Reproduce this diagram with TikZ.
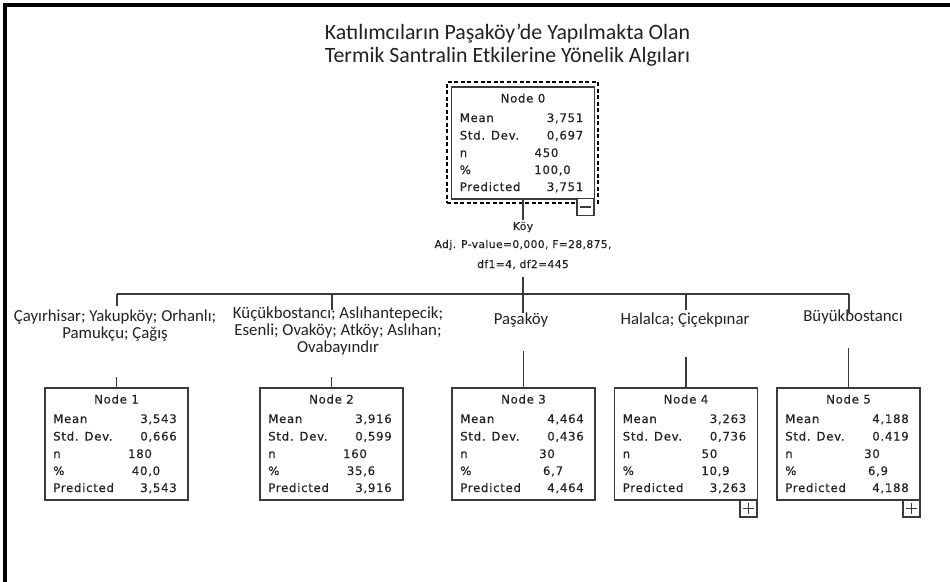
\documentclass[tikz,border=0pt]{standalone}
\usepackage{fontspec}
\setmainfont{Carlito}
\newfontfamily\spssfont[LetterSpace=6, FakeBold=0.4]{DejaVu Sans}
\newfontfamily\splitfont[LetterSpace=4, FakeBold=0.4]{DejaVu Sans}
\definecolor{ln}{HTML}{3A3A3A}
\definecolor{tx}{HTML}{222222}
\tikzset{
  statbox/.style={draw=ln, line width=1.1pt, minimum width=107.25pt, minimum height=84pt, inner sep=0pt, fill=white},
  stattxt/.style={inner sep=0pt, text=tx, font=\spssfont\fontsize{8.8}{10}\selectfont},
  splittxt/.style={inner sep=0pt, text=tx, font=\splitfont\fontsize{8}{9}\selectfont},
  branchtxt/.style={inner sep=0pt, text=tx, align=center, font=\fontsize{12.6}{12.75}\selectfont},
  titletxt/.style={inner sep=0pt, text=tx, font=\fontsize{16.4}{17.25}\selectfont},
  conn/.style={draw=ln, line width=1.1pt},
  pmbox/.style={draw=ln, line width=1.1pt, minimum width=12.75pt, minimum height=12.75pt, inner sep=0pt, fill=white},
  selbox/.style={draw=black, line width=1.1pt, dash pattern=on 3pt off 1.9pt, minimum width=113.25pt, minimum height=90.75pt, inner sep=0pt}
}
% #1 name, #2 centre x, #3 top y, #4 title, #5 mean, #6 sd, #7 n, #8 pct, #9 predicted
\newcommand{\statbox}[9]{%
  \node[statbox] (#1) at (#2,#3+56) {};
  \node[stattxt, anchor=base] (#1-t) at (#2,#3+15.5) {#4};
  \node[stattxt, anchor=base west] (#1-ml) at (#2-63.5,#3+35) {Mean};
  \node[stattxt, anchor=base east] (#1-mv) at (#2+60.5,#3+35) {#5};
  \node[stattxt, anchor=base west] (#1-sl) at (#2-63.5,#3+52.5) {Std. Dev.};
  \node[stattxt, anchor=base east] (#1-sv) at (#2+60.5,#3+52.5) {#6};
  \node[stattxt, anchor=base west] (#1-nl) at (#2-63.5,#3+70) {n};
  \node[stattxt, anchor=base] (#1-nv) at (#2+23.5,#3+70) {#7};
  \node[stattxt, anchor=base west] (#1-pl) at (#2-63.5,#3+87) {\%};
  \node[stattxt, anchor=base] (#1-pv) at (#2+29.5,#3+87) {#8};
  \node[stattxt, anchor=base west] (#1-rl) at (#2-63.5,#3+104) {Predicted};
  \node[stattxt, anchor=base east] (#1-rv) at (#2+60.5,#3+104) {#9};
}
\begin{document}
\begin{tikzpicture}[x=0.75pt,y=-0.75pt]
\useasboundingbox (0,0) rectangle (950,582);
\fill[white] (0,0) rectangle (950,582);
% frame bars
\fill[black] (3.3,3.3) rectangle (950,6.9);
\fill[black] (3.3,3.3) rectangle (6.9,582);

% title
\node[titletxt, anchor=base] (title1) at (507.5,39) {Katılımcıların Paşaköy’de Yapılmakta Olan};
\node[titletxt, anchor=base] (title2) at (507.5,62) {Termik Santralin Etkilerine Yönelik Algıları};

% root node
\node[selbox] (n0sel) at (522.5,142.5) {};
\statbox{n0}{523}{87}{Node 0}{3,751}{0,697}{450}{100,0}{3,751}
\node[pmbox] (n0m) at (585.5,207) {};
\draw[conn] ([xshift=2.5pt]n0m.west) -- ([xshift=-2.5pt]n0m.east);

% split label
\node[splittxt, anchor=base] (sp1) at (523,230) {Köy};
\node[splittxt, anchor=base] (sp2) at (523,248) {Adj. P-value=0,000, F=28,875,};
\node[splittxt, anchor=base] (sp3) at (523,268) {df1=4, df2=445};
\coordinate (stemA) at (523,220);
\coordinate (stemB) at (523,277);
\draw[conn] (n0.south) -- (stemA);

% bus
\coordinate (bus1) at (117,294);
\coordinate (bus2) at (332,294);
\coordinate (bus3) at (523,294);
\coordinate (bus4) at (686,294);
\coordinate (bus5) at (849,294);
\draw[conn] (stemB) -- (bus3);
\draw[conn] (bus1) -- (bus5);

% branch labels
\node[branchtxt] (lab1) at (115,326) {Çayırhisar; Yakupköy; Orhanlı;\\Pamukçu; Çağış};
\node[branchtxt] (lab2) at (338,331) {Küçükbostancı; Aslıhantepecik;\\Esenli; Ovaköy; Atköy; Aslıhan;\\Ovabayındır};
\node[branchtxt] (lab3) at (521,320) {Paşaköy};
\node[branchtxt] (lab4) at (685,320) {Halalca; Çiçekpınar};
\node[branchtxt] (lab5) at (853,317) {Büyükbostancı};

% upper stems
\coordinate (u1) at (117,306);
\coordinate (u2) at (332,310);
\coordinate (u3) at (523,313);
\coordinate (u4) at (686,310);
\coordinate (u5) at (849,313);
\draw[conn] (bus1) -- (u1);
\draw[conn] (bus2) -- (u2);
\draw[conn] (bus3) -- (u3);
\draw[conn] (bus4) -- (u4);
\draw[conn] (bus5) -- (u5);

% child nodes
\statbox{n1}{116.5}{388}{Node 1}{3,543}{0,666}{180}{40,0}{3,543}
\statbox{n2}{331.5}{388}{Node 2}{3,916}{0,599}{160}{35,6}{3,916}
\statbox{n3}{523.5}{388}{Node 3}{4,464}{0,436}{30}{6,7}{4,464}
\statbox{n4}{686}{388}{Node 4}{3,263}{0,736}{50}{10,9}{3,263}
\statbox{n5}{848.5}{388}{Node 5}{4,188}{0.419}{30}{6,9}{4,188}

% lower stems
\coordinate (d1) at (116.5,377);
\coordinate (d2) at (331.5,377);
\coordinate (d3) at (523.5,351);
\coordinate (d4) at (686,357);
\coordinate (d5) at (848.5,348);
\draw[conn] (d1) -- (n1.north);
\draw[conn] (d2) -- (n2.north);
\draw[conn] (d3) -- (n3.north);
\draw[conn] (d4) -- (n4.north);
\draw[conn] (d5) -- (n5.north);

% plus boxes
\node[pmbox] (n4p) at (748.5,508.5) {};
\draw[conn] ([xshift=2.5pt]n4p.west) -- ([xshift=-2.5pt]n4p.east);
\draw[conn] ([yshift=-2.5pt]n4p.north) -- ([yshift=2.5pt]n4p.south);
\node[pmbox] (n5p) at (911.5,508.5) {};
\draw[conn] ([xshift=2.5pt]n5p.west) -- ([xshift=-2.5pt]n5p.east);
\draw[conn] ([yshift=-2.5pt]n5p.north) -- ([yshift=2.5pt]n5p.south);
\end{tikzpicture}
\end{document}
